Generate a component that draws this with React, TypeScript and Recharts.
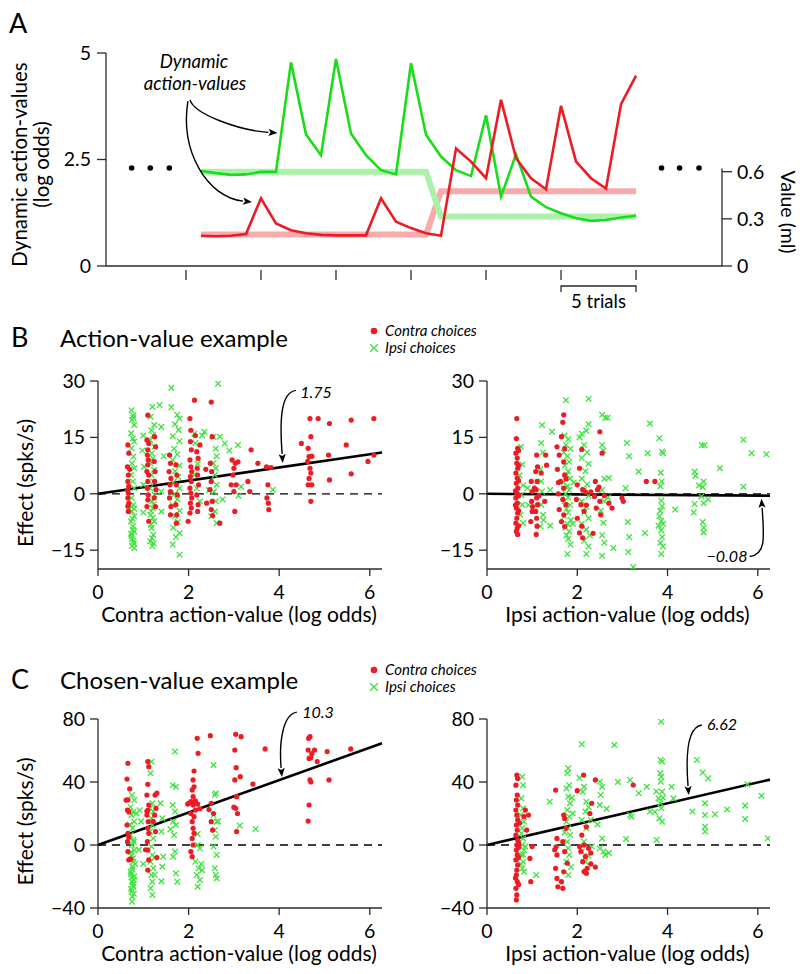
import React from 'react';
import { LineChart, Line, XAxis, YAxis, ScatterChart, Scatter, ReferenceLine, ReferenceDot } from 'recharts';

const FONT = 'Lato, "Open Sans", sans-serif';
const RED = '#ec1c24';
const GREEN = '#1adc1a';
const GREEN_X = '#3ee23e';
const PINK = '#f9aaaa';
const LIGHT_GREEN = '#aaf2aa';
const AXIS = '#2a2a2a';
const TXT = '#000';

// ---------------- Panel A data ----------------
const trials = [0, 1, 2, 3, 4, 5, 6, 7, 8, 9, 10, 11, 12, 13, 14, 15, 16, 17, 18, 19, 20, 21, 22, 23, 24, 25, 26, 27, 28, 29];
const contraActionValue = [0.71, 0.70, 0.71, 0.75, 1.59, 1.00, 0.84, 0.77, 0.73, 0.72, 0.72, 0.72, 1.59, 1.04, 0.89, 0.77, 0.71, 2.76, 2.45, 2.06, 3.90, 2.53, 2.06, 1.80, 3.76, 2.45, 2.06, 1.82, 3.80, 4.47];
const ipsiActionValue = [2.23, 2.18, 2.14, 2.15, 2.21, 2.21, 4.78, 3.09, 2.60, 4.86, 3.11, 2.60, 2.25, 2.15, 4.76, 3.08, 2.57, 2.25, 2.11, 3.54, 1.63, 2.62, 1.63, 1.38, 1.24, 1.12, 1.06, 1.08, 1.14, 1.18];
const contraRewardMl = [0.2, 0.2, 0.2, 0.2, 0.2, 0.2, 0.2, 0.2, 0.2, 0.2, 0.2, 0.2, 0.2, 0.2, 0.2, 0.2, 0.475, 0.475, 0.475, 0.475, 0.475, 0.475, 0.475, 0.475, 0.475, 0.475, 0.475, 0.475, 0.475, 0.475];
const ipsiRewardMl = [0.6, 0.6, 0.6, 0.6, 0.6, 0.6, 0.6, 0.6, 0.6, 0.6, 0.6, 0.6, 0.6, 0.6, 0.6, 0.6, 0.315, 0.315, 0.315, 0.315, 0.315, 0.315, 0.315, 0.315, 0.315, 0.315, 0.315, 0.315, 0.315, 0.315];
const trialTicks = [-1, 4, 9, 14, 19, 24, 29];
const A_X_MIN = -6.33;
const A_X_MAX = 34.73;
const leftTicksA = [0, 2.5, 5];
const rightTicksA = [0, 0.3, 0.6];
const RIGHT_MAX_A = 1.355;
const ellipsisTrials = [-4.62, -3.38, -2.11, 30.7, 31.9, 33.2];
const ellipsisLevel = 2.3;
const scaleBar = [{ x: 24, y: -0.47 }, { x: 29, y: -0.47 }];
const arrowToIpsi = [{ x: -0.73, y: 3.9 }, { x: 5.1, y: 3.12 }];
const arrowToContra = [{ x: -0.87, y: 3.87 }, { x: 3.4, y: 1.5 }];

const panelAData = trials.map((k, i) => ({
  k,
  contra: contraActionValue[i],
  ipsi: ipsiActionValue[i],
  contraMl: contraRewardMl[i],
  ipsiMl: ipsiRewardMl[i],
}));

// ---------------- Panel B / C data ----------------
const xTicksBC = [0, 2, 4, 6];
const X_MAX_BC = 6.27;

const contraB1: number[][] = [
  [0.66, 13], [0.68, 10.8], [0.65, 7.2], [0.67, 5], [0.66, 3.3], [0.68, 2], [0.65, 1], [0.67, 0.2], [0.66, -1.1], [0.68, -2.5], [0.66, -3.3], [0.67, -4.7], [0.7, 6.5],
  [1.1, 20.9], [1.08, 14.3], [1.12, 13.4], [1.1, 11.7], [1.09, 10.3], [1.11, 9], [1.1, 7.7], [1.08, 5.9], [1.12, 5], [1.1, 3.3], [1.09, 1.5], [1.11, -0.3], [1.1, -1.6], [1.08, -3.4], [1.12, -7.3],
  [1.25, 15.2], [1.27, 12.5], [1.24, 8.6], [1.26, 5.9], [1.25, 3.3], [1.28, 1.1], [1.24, -1.1], [1.27, -3.4],
  [1.58, 10.3], [1.6, 8.1], [1.57, 5.9], [1.61, 4.1], [1.59, 2.4], [1.6, 0.6], [1.58, -1.1], [1.61, -3.4], [1.6, -5.6],
  [1.72, 7.7], [1.74, 5], [1.73, 2.4], [1.75, -0.3], [1.72, -2.9], [1.74, -5.6], [1.73, -7.8],
  [2.13, 24.9], [2.03, 20], [2.05, 16.9], [2.04, 13.9], [2.06, 11.7], [2.03, 9], [2.05, 7.2], [2.07, 5.9], [2.04, 4.6], [2.06, 3.3], [2.03, 1.5], [2.05, 0.2], [2.07, -1.1], [2.04, -2.5], [2.06, -3.8], [2.03, -5.1], [1.99, -7.3],
  [2.18, 11.2], [2.21, 9.4], [2.19, 6.8], [2.2, 5], [2.22, 2.4], [2.18, -0.3], [2.21, -2.9], [2.2, -4.7], [2.15, 15.5], [2.25, 13],
  [2.5, 24.4], [2.52, 15.2], [2.48, 8.1], [2.51, 5.9], [2.5, 3.3], [2.47, 1.1], [2.52, -2], [2.5, -4.2], [2.53, -5.8], [2.69, -7.8], [2.38, 6.5], [2.4, -2.5],
  [2.96, 9], [3.03, 8.1], [3.0, 6.8], [2.98, 5], [2.94, 2.4], [3.05, 2.4], [3.0, 0.6], [3.02, -4.7], [3.09, 8.5],
  [3.38, 11.7], [3.31, 3.3], [3.35, 0.6], [3.53, 8.1], [3.72, 7.2], [3.75, 2.4], [3.73, -1.1], [3.76, -2.5], [3.77, -4.2], [3.82, 7],
  [4.49, 13.4], [4.68, 20], [4.7, 15.2], [4.64, 12.1], [4.66, 9.9], [4.72, 10], [4.63, 8.6], [4.68, 6.8], [4.7, 5.5], [4.66, 4.1], [4.72, 2.4], [4.64, 2.4], [4.7, -2],
  [4.86, 20], [5.11, 18.7], [5.11, 3.7], [5.09, 10.3], [5.48, 13], [5.59, 19.6], [5.59, 5.3], [5.96, 8.6], [6.09, 20], [6.09, 10.3],
];
const ipsiB1: number[][] = [
  [0.74, 22.2], [0.78, 20.9], [0.75, 19.6], [0.8, 18.3], [0.73, 16.1], [0.77, 14.7], [0.8, 13.9], [0.74, 12.1], [0.78, 9.9], [0.75, 8.1], [0.8, 6.8], [0.73, 5], [0.77, 3.3], [0.8, 1.5], [0.74, -1.1], [0.78, -2.9], [0.75, -4.7], [0.8, -6], [0.73, -7.3], [0.77, -8.6], [0.8, -10], [0.74, -11.3], [0.78, -12.6], [0.75, -13.9], [0.8, -14.4],
  [0.77, -9.5], [0.75, -12], [0.79, -13.2], [0.73, -10.6], [0.76, -6.6], [0.8, -4], [0.74, -3.5], [0.78, 20.2],
  [1.0, 15.5], [0.98, 11.5], [1.02, 7.2], [1.0, 2.4], [1.0, -5],
  [1.2, 23.1], [1.16, 20.5], [1.24, 18.3], [1.18, 16.9], [1.22, 15.6], [1.15, 14.3], [1.25, 12.5], [1.19, 10.8], [1.21, 9.4], [1.16, 8.1], [1.24, 6.4], [1.18, 5], [1.22, 3.3], [1.15, 1.5], [1.25, -0.3], [1.19, -2], [1.21, -3.8], [1.16, -5.6], [1.24, -7.3], [1.18, -9.1], [1.22, -10.9], [1.15, -12.6], [1.2, -13.9],
  [1.19, -11.8], [1.23, -13.2], [1.17, -8.2], [1.21, -6.4], [1.17, -4.6], [1.23, -2.8],
  [1.36, 23.6], [1.4, 17.8], [1.4, 0.6], [1.4, -4.7], [1.45, 10],
  [1.62, 28.2], [1.62, 23], [1.75, 21], [1.8, 20], [1.7, 18.5], [1.78, 17], [1.65, 15.3], [1.8, 14], [1.68, 12], [1.75, 10.5], [1.65, 9], [1.8, 7.5], [1.7, 6], [1.77, 4.5], [1.66, 3], [1.8, 1.5], [1.7, 0], [1.75, -1.5], [1.65, -3], [1.8, -4.5], [1.7, -6], [1.76, -7.5], [1.66, -9], [1.8, -10.5], [1.65, -13.5], [1.8, -16.2], [1.72, -11.5],
  [2.13, 16], [2.15, 13.5], [2.2, 8], [2.12, 5], [2.18, 1.5], [2.25, -2], [2.3, 15.5], [2.35, 16.5],
  [2.65, 29.3], [2.55, 15.2], [2.6, 12], [2.62, 10], [2.55, 8.1], [2.6, 6.8], [2.58, 5], [2.62, 2.4], [2.56, 0.6], [2.6, -2], [2.58, -4.7], [2.62, -7.8], [2.5, -6], [2.45, 1],
  [2.8, 13.4], [2.69, 15.2], [3.09, 13], [3.16, 1.9], [3.86, 1.1], [2.75, -1.5], [2.9, 11.5], [3.1, -0.5],
];
const contraB2: number[][] = [
  [0.66, 20], [0.65, 14.7], [0.68, 12.1], [0.64, 10.8], [0.67, 9.5], [0.66, 8.1], [0.68, 6.8], [0.64, 5.5], [0.67, 4.2], [0.65, 2.8], [0.68, 1.5], [0.66, 0.2], [0.64, -1.1], [0.67, -2.5], [0.65, -3.8], [0.68, -5.1], [0.66, -6.5], [0.64, -7.8], [0.67, -9.1], [0.65, -10], [0.68, -10.8], [0.7, 11.5], [0.7, 7.5], [0.7, 3.5], [0.7, -0.5], [0.7, -4.5], [0.7, -8.5], [0.63, 0.8], [0.63, -3],
  [0.98, 3.3], [1.0, 0.6], [0.99, -2], [1.01, -3.4], [1.0, -4.7], [0.97, -7.4], [1.05, 1.5],
  [1.1, 10.3], [1.12, 7.2], [1.08, 5.9], [1.11, 3.3], [1.09, 1.1], [1.1, -1.1], [1.12, -2.9], [1.08, -4.7], [1.1, -6.5], [1.11, -8.6], [1.09, -10.8], [1.15, -0.5],
  [1.3, 10.3], [1.32, 7.6], [1.28, -2], [1.2, 5.5],
  [1.7, 21], [1.68, 19], [1.65, 15.2], [1.55, 12.5], [1.72, 12], [1.6, 10.3], [1.7, 8.5], [1.56, 6.5], [1.72, 5], [1.63, 3.3], [1.7, 1.5], [1.58, 0], [1.68, -1.5], [1.75, -2.9], [1.6, -4.2], [1.7, -5.6], [1.65, -7.4], [1.72, -8.7], [1.58, 3], [1.75, 4],
  [2.1, 11.8], [2.05, 6.8], [2.0, 2.4], [2.12, 1.1], [1.98, -1.5], [2.08, -2.9], [2.15, -4.7], [2.0, -6.5], [2.1, -8.6], [2.05, -10.4], [2.12, -11.7], [2.2, -3], [2.18, 0.5],
  [2.5, 16.5], [2.55, 10.8], [2.4, 3.3], [2.45, 1.1], [2.38, -0.7], [2.5, -2], [2.42, -3.8], [2.52, -5.6], [2.3, 0.5], [2.48, 1.8], [2.35, -10.5],
  [2.77, -3.8], [2.99, -1.1], [3.02, -2], [3.53, 3.3], [3.72, 3.3], [2.6, -0.5], [2.7, -2.5],
];
const ipsiB2: number[][] = [
  [0.75, 12.5], [0.78, 7.8], [0.72, 4.9], [0.8, 2.3], [0.76, -0.3], [0.78, -2.9], [0.74, -5.6], [0.8, -7.8],
  [0.9, 1.5], [0.92, -3],
  [1.22, 18.3], [1.2, 13.5], [1.24, 11], [1.18, 6.6], [1.2, 3.3], [1.22, 0.6], [1.2, -2.9], [1.24, -5.6], [1.18, -8.6], [1.25, -7],
  [1.44, 16.5], [1.4, -8.5], [1.4, 1],
  [1.75, 24.9], [1.72, 15.5], [1.8, 14.5], [1.75, 13], [1.85, 12], [1.7, 11], [1.78, 10], [1.82, 8.5], [1.72, 7.5], [1.8, 6], [1.76, 5], [1.84, 4], [1.7, 3], [1.78, 2], [1.82, 1], [1.74, 0], [1.8, -1], [1.72, -2], [1.84, -3], [1.76, -4], [1.8, -5], [1.72, -6], [1.86, -7], [1.78, -8], [1.74, -9], [1.82, -10], [1.76, -11], [1.8, -12], [1.85, -13.5], [1.78, -16], [1.9, -8], [1.92, 3],
  [2.25, 25.3], [2.25, 18.5], [2.2, 16.8], [2.1, 16], [2.05, 15], [2.15, 13], [2.22, 11], [2.1, 9.5], [2.25, 8], [2.18, 6], [2.1, 4], [2.22, 2.5], [2.15, 1], [2.25, -0.5], [2.1, -2], [2.2, -3.5], [2.15, -5], [2.25, -6.5], [2.1, -8], [2.2, -9.5], [2.28, -11], [2.15, -12.5], [2.25, -14], [2.2, -16],
  [2.55, 21], [2.62, 20.2], [2.67, 20.2], [2.55, 13], [2.58, 11.5], [2.6, 4], [2.7, 4.2], [2.55, 1], [2.6, -2], [2.52, -4.5], [2.58, -7.7], [2.55, -11], [2.6, -13], [2.55, -16.5], [2.8, -14.4],
  [3.1, 13.5], [3.15, 10], [3.07, 1.5], [3.12, -7.5], [3.15, -11.5], [3.13, -15.5],
  [3.36, 5.9], [3.24, -19.5], [3.5, -10.4], [3.61, 18.7], [3.56, 10.8], [2.68, -1],
  [3.82, 14.8], [3.88, 11.2], [3.9, 10.8], [3.85, 5.6], [3.87, 3.3], [3.84, 2], [3.86, -1.8], [3.88, -3.3], [3.84, -4.5], [3.82, -6], [3.86, -7.2], [3.9, -8], [3.8, -8.5], [3.86, -9.7], [3.88, -11.5], [3.84, -13], [3.9, -14], [3.86, -16],
  [4.17, -4.2], [4.6, 5.9], [4.62, 4.8], [4.6, -2.7], [4.58, -5],
  [4.76, 12.9], [4.82, 12.9], [4.8, 3.3], [4.78, 1.8], [4.75, -0.7], [4.8, -2.5], [4.78, -7.5], [4.8, -9], [4.8, -10.3], [4.9, -1.5], [4.7, 2.2],
  [5.16, 6.8], [5.68, 14.4], [5.68, 1.9], [5.86, 10.8], [6.19, 10.5],
];
const contraC1: number[][] = [
  [0.66, 51.9], [0.64, 41.9], [0.7, 35.6], [0.66, 28.6], [0.62, 28.5], [0.65, 22.2], [0.68, 21], [0.64, 12.7], [0.66, 7.4], [0.68, 5], [0.65, 2.1], [0.66, -4.2], [0.68, -9.5], [0.72, -9],
  [1.1, 52.9], [1.12, 49.7], [1.1, 38.5], [1.08, 31.7], [1.12, 25.4], [1.1, 22], [1.08, 19], [1.11, 14.8], [1.1, 10.6], [1.12, 7.4], [1.09, 2.1], [1.1, -3.2], [1.12, -9.5], [1.1, -15.9], [1.05, -3], [1.08, 21.5],
  [1.26, 31.7], [1.3, 33], [1.28, 23.3], [1.25, 19], [1.27, 8.5], [1.3, -8], [1.22, 15],
  [2.19, 67.7], [2.21, 58.2], [2.12, 47], [2.1, 41.3], [2.12, 37], [2.08, 35], [2.1, 30.7], [2.05, 27.5], [2.1, 25.4], [2.15, 22.2], [2.05, 20], [2.12, 18], [2.08, 14.8], [2.1, 10.6], [2.12, 7.4], [2.08, 4.2], [2.1, 0], [2.05, -4.2], [2.08, -7.4], [2.0, 26.5], [1.98, 26], [2.15, 28], [2.2, 26], [2.25, 23],
  [2.48, 69.4], [2.5, 26.5], [2.55, 20], [2.5, 14.8], [2.53, 9.5], [2.45, 22.5],
  [3.04, 70.3], [3.16, 68.8], [3.02, 60.3], [3.05, 49.1], [3.14, 43.4], [3.02, 41.3], [3.06, 30.7], [3.04, 23.3], [3.08, 20], [3.06, 8.5], [3.0, 24],
  [3.42, 38.7], [3.69, 61],
  [4.65, 67.7], [4.68, 68.8], [4.64, 60.3], [4.7, 55.4], [4.66, 55], [4.68, 41.3], [4.7, 40], [4.66, 25.4], [4.64, 15.2], [4.72, 58],
  [4.78, 60.3], [4.84, 52.9], [5.06, 59.3], [5.1, 41.3], [5.58, 61],
];
const ipsiC1: number[][] = [
  [0.75, 31.7], [0.8, 28.5], [0.72, 24], [0.78, 21], [0.74, 19], [0.8, 14.8], [0.76, 10.6], [0.72, 6.3], [0.78, 3.2], [0.75, 0], [0.8, -3.2], [0.74, -6.3], [0.78, -10.6], [0.76, -13.8], [0.72, -16.9], [0.8, -20], [0.75, -23.3], [0.78, -26.5], [0.74, -29.6], [0.76, -32.8], [0.75, -36], [0.82, -12], [0.7, 13], [0.85, 20],
  [0.73, -18.5], [0.79, -22], [0.77, -25], [0.73, -28], [0.79, -31], [0.77, -8.5], [0.73, -4.5], [0.79, 2], [0.76, -15.5], [0.74, -20.5],
  [0.92, 22], [0.95, 15], [1.0, -12], [0.9, -3],
  [1.18, 52.9], [1.16, 45.5], [1.2, 26.5], [1.15, 23.3], [1.22, 21.2], [1.18, 17], [1.2, 12.7], [1.15, 8.5], [1.22, 4.2], [1.18, -1], [1.2, -6.3], [1.16, -10.6], [1.22, -14.8], [1.18, -19], [1.2, -23.3], [1.16, -27.5], [1.2, -31.7], [1.25, -19], [1.25, -8],
  [1.38, 26.5], [1.42, 17], [1.4, 8.5], [1.44, -7.4], [1.42, -13.8], [1.4, -23],
  [1.7, 59.3], [1.65, 38], [1.72, 37], [1.65, 25.4], [1.7, 21.2], [1.66, 14.8], [1.72, 12.7], [1.68, 6.3], [1.7, -4.2], [1.66, -7.4], [1.72, -18], [1.75, -23.3], [1.6, 10],
  [2.2, 0], [2.25, -2.1], [2.15, -10.6], [2.22, -14.8], [2.18, -19], [2.25, -22.2], [2.2, -26.5], [2.28, -12], [2.3, -16], [2.2, 7],
  [2.55, 50.8], [2.6, 32.8], [2.58, 31.7], [2.55, 19], [2.62, 14.8], [2.58, 9.5], [2.6, 5.3], [2.55, -1], [2.62, -6.3], [2.58, -14.8], [2.6, -19], [2.62, -21.2], [2.65, 15],
  [3.13, 12.3], [3.48, 10.2],
];
const contraC2: number[][] = [
  [0.66, 44.4], [0.68, 42.3], [0.64, 38], [0.67, 31.7], [0.65, 28.5], [0.68, 25.4], [0.64, 22.2], [0.66, 19], [0.68, 15.9], [0.65, 12.7], [0.67, 9.5], [0.64, 6.3], [0.68, 3.2], [0.66, 0], [0.65, -3.2], [0.67, -6.3], [0.64, -9.5], [0.68, -12.7], [0.66, -15.9], [0.65, -19], [0.67, -23.3], [0.64, -27.5], [0.66, -31.7], [0.65, -34.9], [0.7, 1.5], [0.7, -1.5], [0.72, 14], [0.7, -8], [0.63, -21], [0.7, -25],
  [0.85, 22.2], [0.92, 19], [0.88, 9.5], [0.95, -8.5], [0.97, -23.3], [0.82, 18], [1.0, -1],
  [1.52, 34.9], [1.55, 4.2], [1.53, -1.1], [1.55, -6.3], [1.52, -14.8], [1.55, -21.2], [1.57, -26.5], [1.5, -3],
  [1.7, 19], [1.72, 16.9], [1.75, 10.6], [1.68, 2.1], [1.72, -4.2], [1.78, -11.6], [1.68, -27.5], [1.65, -23.3], [1.7, -17],
  [2.14, 44.4], [2.32, 26.5], [2.2, 11.6], [2.1, 6.3], [2.15, 0], [2.25, -2.1], [2.08, -4.2], [2.18, -7.4], [2.12, -10.6], [2.22, -14.8], [2.15, -16.9], [2.05, -1], [2.3, -5], [2.2, -18], [2.0, 34.5],
  [2.4, 41.3], [3.24, 38.1], [2.3, -12], [2.4, -14], [2.28, 20],
];
const ipsiC2: number[][] = [
  [0.78, 43.3], [0.8, 38], [0.76, 29.6], [0.8, 23.3], [0.75, 19], [0.82, 14.8], [0.78, 10.6], [0.76, 7.4], [0.8, 4.2], [0.78, 0], [0.82, -3.2], [0.76, -6.3], [0.8, -10.6], [0.78, -14.8], [0.82, -17], [0.75, -12], [0.8, -6], [0.85, -1],
  [1.09, -19], [1.39, 27.5],
  [1.8, 48.7], [1.78, 45.5], [1.82, 38], [1.76, 35.9], [1.8, 30.7], [1.84, 26.5], [1.78, 22.2], [1.82, 18], [1.76, 14.8], [1.8, 10.6], [1.84, 6.3], [1.78, 2.1], [1.8, -2.1], [1.82, -6.3], [1.76, -10.6], [1.8, -19], [1.88, 30], [1.9, 20], [1.72, 8], [1.86, -14],
  [2.1, 63.9], [2.15, 37], [2.12, 33.8], [2.2, 27.5], [2.18, 21.2], [2.1, 15.9], [2.2, 10.6], [2.15, 2.1], [2.1, -4.2], [2.18, -10.6], [2.2, -16.9], [2.25, 24], [2.25, -7], [2.05, 42.5], [2.3, 16], [2.32, -1],
  [2.5, 40.2], [2.55, 37], [2.52, 31.7], [2.5, 25.4], [2.55, 4.2], [2.5, -2.1], [2.58, -4.2], [2.62, -6.3], [2.65, 23], [2.7, -5], [2.45, 13],
  [2.82, 63.5], [3.17, 41.3], [3.36, 32.8], [3.54, 37], [3.61, 21.2], [3.76, 3.2], [3.17, 19], [3.08, 3.8], [2.9, 40], [3.2, 18],
  [3.86, 78.3], [3.85, 54], [3.88, 53], [3.84, 45.5], [3.86, 43.3], [3.85, 40.2], [3.88, 33.8], [3.8, 29.6], [3.84, 26.5], [3.86, 23.3], [3.82, 16.9], [3.88, 14.8], [3.75, 34], [3.9, 30], [3.72, 21],
  [4.09, 37], [4.13, 29.6], [4.65, 54], [4.78, 46], [4.83, 26.5], [4.83, 19], [4.83, 11.6], [4.83, 8.5], [4.9, 42.3], [4.55, 21.2], [5.05, 19.5], [5.32, 22.6], [5.72, 25], [5.72, 16.5], [5.77, 38.5], [6.08, 31.3], [6.22, 4.2],
];

const fitB1 = [{ x: 0, y: 0 }, { x: 6.27, y: 10.97 }];
const fitB2 = [{ x: 0, y: 0 }, { x: 6.27, y: -0.5 }];
const fitC1 = [{ x: 0, y: 0 }, { x: 6.27, y: 64.6 }];
const fitC2 = [{ x: 0, y: 0 }, { x: 6.27, y: 41.5 }];

const arrowB1 = [{ x: 4.37, y: 27.5 }, { x: 4.08, y: 8.2 }];
const arrowB2 = [{ x: 5.82, y: -16.68 }, { x: 6.08, y: -1.32 }];
const arrowC1 = [{ x: 4.39, y: 84.4 }, { x: 4.06, y: 43.2 }];
const arrowC2 = [{ x: 4.76, y: 76.2 }, { x: 4.47, y: 31.7 }];

const toPts = (arr: number[][]) => arr.map(([x, y]) => ({ x, y }));
const fmtSigned = (v: number) => (v < 0 ? '\u2212' + Math.abs(v) : String(v));

// ---------------- shapes ----------------
const RedDot = (p: any) => <circle cx={p.cx} cy={p.cy} r={2.6} fill={RED} />;
const GreenX = (p: any) => {
  const s = 2.8;
  return (
    <path
      d={`M${p.cx - s},${p.cy - s}L${p.cx + s},${p.cy + s}M${p.cx - s},${p.cy + s}L${p.cx + s},${p.cy - s}`}
      stroke={GREEN_X}
      strokeWidth={1.3}
      fill="none"
    />
  );
};

const curvedArrow = (c1dx: number, c1dy: number, c2dx: number, c2dy: number) => (p: any) => {
  const { x1, y1, x2, y2 } = p;
  const cx1 = x1 + c1dx, cy1 = y1 + c1dy, cx2 = x2 + c2dx, cy2 = y2 + c2dy;
  const ang = Math.atan2(y2 - cy2, x2 - cx2);
  const L = 9, W = 3.6;
  const bx = x2 - L * Math.cos(ang), by = y2 - L * Math.sin(ang);
  const px = -Math.sin(ang), py = Math.cos(ang);
  return (
    <g>
      <path d={`M${x1},${y1}C${cx1},${cy1} ${cx2},${cy2} ${bx},${by}`} stroke="#000" strokeWidth={1.4} fill="none" />
      <path d={`M${x2},${y2}L${bx + W * px},${by + W * py}L${bx + 2 * Math.cos(ang)},${by + 2 * Math.sin(ang)}L${bx - W * px},${by - W * py}Z`} fill="#000" />
    </g>
  );
};

const ScaleBarShape = (p: any) => {
  const { x1, y1, x2 } = p;
  return (
    <g>
      <path d={`M${x1},${y1 + 6}V${y1}H${x2}V${y1 + 6}`} stroke={AXIS} strokeWidth={1.3} fill="none" />
      <text x={(x1 + x2) / 2} y={y1 + 22} textAnchor="middle" fontSize={18.5} fill={TXT}>5 trials</text>
    </g>
  );
};

const GapTick = (p: any) => <line x1={p.x} x2={p.x} y1={p.y + 4} y2={p.y + 14} stroke={AXIS} strokeWidth={1.3} />;

// ---------------- Panel A ----------------
function PanelA() {
  return (
    <LineChart width={800} height={320} data={panelAData} margin={{ top: 53, right: 18, bottom: 24, left: 46 }}>
      <XAxis
        type="number"
        dataKey="k"
        domain={[A_X_MIN, A_X_MAX]}
        allowDataOverflow
        ticks={trialTicks}
        tickLine={false}
        tickSize={0}
        tickMargin={0}
        tick={GapTick}
        height={30}
        stroke={AXIS}
        strokeWidth={1.3}
      />
      <YAxis
        yAxisId="left"
        domain={[0, 5]}
        ticks={leftTicksA}
        allowDataOverflow
        width={60}
        tickSize={9}
        tickMargin={6}
        stroke={AXIS}
        strokeWidth={1.3}
        tick={{ fontSize: 19.5, fill: TXT }}
        label={(p: any) => {
          const vb = p.viewBox;
          const cy = vb.y + vb.height / 2 + 5;
          return (
            <g>
              <text x={vb.x - 19} y={cy} transform={`rotate(-90 ${vb.x - 19} ${cy})`} textAnchor="middle" fontSize={20.5} fill={TXT}>Dynamic action-values</text>
              <text x={vb.x + 3} y={cy} transform={`rotate(-90 ${vb.x + 3} ${cy})`} textAnchor="middle" fontSize={20.5} fill={TXT}>(log odds)</text>
            </g>
          );
        }}
      />
      <YAxis
        yAxisId="right"
        orientation="right"
        domain={[0, RIGHT_MAX_A]}
        ticks={rightTicksA}
        allowDataOverflow
        width={60}
        axisLine={false}
        tickSize={10}
        tickMargin={5}
        stroke={AXIS}
        strokeWidth={1.3}
        tick={{ fontSize: 19.5, fill: TXT }}
        tickFormatter={(v: number) => (v === 0 ? '0' : v.toFixed(1))}
        label={(p: any) => {
          const vb = p.viewBox;
          const cx = vb.x + 59;
          const cy = vb.y + vb.height - 54;
          return <text x={cx} y={cy} transform={`rotate(90 ${cx} ${cy})`} textAnchor="middle" fontSize={19.5} fill={TXT}>Value (ml)</text>;
        }}
      />
      <ReferenceLine yAxisId="right" segment={[{ x: A_X_MAX, y: 0 }, { x: A_X_MAX, y: 0.62 }]} stroke={AXIS} strokeWidth={1.3} ifOverflow="visible" />
      <Line yAxisId="right" dataKey="contraMl" stroke={PINK} strokeWidth={6} dot={false} isAnimationActive={false} />
      <Line yAxisId="right" dataKey="ipsiMl" stroke={LIGHT_GREEN} strokeWidth={6} dot={false} isAnimationActive={false} />
      <Line yAxisId="left" dataKey="ipsi" stroke={GREEN} strokeWidth={2.6} dot={false} isAnimationActive={false} />
      <Line yAxisId="left" dataKey="contra" stroke={RED} strokeWidth={2.6} dot={false} isAnimationActive={false} />
      {ellipsisTrials.map((t) => (
        <ReferenceDot key={t} yAxisId="left" x={t} y={ellipsisLevel} r={2.8} fill="#000" stroke="none" />
      ))}
      <ReferenceLine yAxisId="left" segment={arrowToIpsi} ifOverflow="visible" shape={curvedArrow(4, 14, -40, -3)} />
      <ReferenceLine yAxisId="left" segment={arrowToContra} ifOverflow="visible" shape={curvedArrow(-8, 50, -45, -5)} />
      <ReferenceLine yAxisId="left" segment={scaleBar} ifOverflow="visible" shape={ScaleBarShape} />
    </LineChart>
  );
}

// ---------------- Scatter panels ----------------
type PanelProps = {
  left: number;
  top: number;
  height: number;
  margin: { top: number; right: number; bottom: number; left: number };
  yDomain: number[];
  yTicks: number[];
  xLabel: string;
  showYLabel: boolean;
  contra: number[][];
  ipsi: number[][];
  fit: { x: number; y: number }[];
  arrow: { x: number; y: number }[];
  arrowCtl: number[];
};

function ScatterPanel(props: PanelProps) {
  const { left, top, height, margin, yDomain, yTicks, xLabel, showYLabel, contra, ipsi, fit, arrow, arrowCtl } = props;
  return (
    <div style={{ position: 'absolute', left, top }}>
      <ScatterChart width={400} height={height} margin={margin}>
        <XAxis
          type="number"
          dataKey="x"
          domain={[0, X_MAX_BC]}
          allowDataOverflow
          ticks={xTicksBC}
          tickSize={7}
          tickMargin={9}
          height={50}
          stroke={AXIS}
          strokeWidth={1.3}
          tick={{ fontSize: 19.5, fill: TXT }}
          label={(p: any) => {
            const vb = p.viewBox;
            return <text x={vb.x + vb.width / 2 - 1} y={vb.y + 53} textAnchor="middle" fontSize={21} fill={TXT}>{xLabel}</text>;
          }}
        />
        <YAxis
          type="number"
          dataKey="y"
          domain={yDomain}
          allowDataOverflow
          ticks={yTicks}
          width={50}
          tickSize={8}
          tickMargin={5}
          stroke={AXIS}
          strokeWidth={1.3}
          tick={{ fontSize: 19.5, fill: TXT }}
          tickFormatter={fmtSigned}
          label={
            showYLabel
              ? (p: any) => {
                  const vb = p.viewBox;
                  const cx = vb.x - 15;
                  const cy = vb.y + vb.height / 2 + 8;
                  return <text x={cx} y={cy} transform={`rotate(-90 ${cx} ${cy})`} textAnchor="middle" fontSize={21} fill={TXT}>Effect (spks/s)</text>;
                }
              : undefined
          }
        />
        <Scatter data={toPts(ipsi)} shape={GreenX} isAnimationActive={false} />
        <Scatter data={toPts(contra)} shape={RedDot} isAnimationActive={false} />
        <ReferenceLine y={0} stroke="#000" strokeWidth={1.3} strokeDasharray="8 6" />
        <ReferenceLine segment={fit} stroke="#000" strokeWidth={2.6} ifOverflow="visible" />
        <ReferenceLine segment={arrow} ifOverflow="visible" shape={curvedArrow(arrowCtl[0], arrowCtl[1], arrowCtl[2], arrowCtl[3])} />
      </ScatterChart>
    </div>
  );
}

function LegendBlock({ y }: { y: number }) {
  const s = 3.8;
  const gx = 374, gy = y + 17;
  return (
    <g>
      <circle cx={374} cy={y} r={3.3} fill={RED} />
      <text x={385} y={y + 5} fontSize={15} fontStyle="italic" fill={TXT}>Contra choices</text>
      <path d={`M${gx - s},${gy - s}L${gx + s},${gy + s}M${gx - s},${gy + s}L${gx + s},${gy - s}`} stroke={GREEN_X} strokeWidth={1.4} />
      <text x={385} y={gy + 5} fontSize={15} fontStyle="italic" fill={TXT}>Ipsi choices</text>
    </g>
  );
}

export default function App() {
  return (
    <div style={{ position: 'absolute', left: 0, top: 0, width: 800, height: 974, background: '#fff', fontFamily: FONT, overflow: 'hidden' }}>
      <div style={{ position: 'absolute', left: 0, top: 0 }}>
        <PanelA />
      </div>
      <ScatterPanel left={0} top={330} height={300} margin={{ top: 51, right: 18, bottom: 11, left: 48 }} yDomain={[-20, 30]} yTicks={[-15, 0, 15, 30]} xLabel="Contra action-value (log odds)" showYLabel contra={contraB1} ipsi={ipsiB1} fit={fitB1} arrow={arrowB1} arrowCtl={[-16, 2, -3, -40]} />
      <ScatterPanel left={400} top={330} height={300} margin={{ top: 51, right: 30, bottom: 11, left: 37 }} yDomain={[-20, 30]} yTicks={[-15, 0, 15, 30]} xLabel="Ipsi action-value (log odds)" showYLabel={false} contra={contraB2} ipsi={ipsiB2} fit={fitB2} arrow={arrowB2} arrowCtl={[16, -2, 3, 40]} />
      <ScatterPanel left={0} top={665} height={309} margin={{ top: 54, right: 18, bottom: 16, left: 48 }} yDomain={[-40, 80]} yTicks={[-40, 0, 40, 80]} xLabel="Contra action-value (log odds)" showYLabel contra={contraC1} ipsi={ipsiC1} fit={fitC1} arrow={arrowC1} arrowCtl={[-14, 2, -3, -35]} />
      <ScatterPanel left={400} top={665} height={309} margin={{ top: 54, right: 30, bottom: 16, left: 37 }} yDomain={[-40, 80]} yTicks={[-40, 0, 40, 80]} xLabel="Ipsi action-value (log odds)" showYLabel={false} contra={contraC2} ipsi={ipsiC2} fit={fitC2} arrow={arrowC2} arrowCtl={[-15, 2, -3, -38]} />
      <svg width={800} height={974} style={{ position: 'absolute', left: 0, top: 0, pointerEvents: 'none' }} fontFamily={FONT}>
        <text x={9} y={33} fontSize={27} fill={TXT}>A</text>
        <text x={194} y={68} textAnchor="middle" fontSize={18.5} fontStyle="italic" fill={TXT}>Dynamic</text>
        <text x={195} y={90} textAnchor="middle" fontSize={18.5} fontStyle="italic" fill={TXT}>action-values</text>
        <text x={11} y={347} fontSize={27} fill={TXT}>B</text>
        <text x={60} y={347} fontSize={24} fill={TXT}>Action-value example</text>
        <LegendBlock y={331} />
        <text x={316} y={398} textAnchor="middle" fontSize={16} fontStyle="italic" fill={TXT}>1.75</text>
        <text x={727} y={562} textAnchor="middle" fontSize={16} fontStyle="italic" fill={TXT}>{'\u22120.08'}</text>
        <text x={11} y={689} fontSize={27} fill={TXT}>C</text>
        <text x={60} y={689} fontSize={24} fill={TXT}>Chosen-value example</text>
        <LegendBlock y={670} />
        <text x={318} y={718} textAnchor="middle" fontSize={16} fontStyle="italic" fill={TXT}>10.3</text>
        <text x={722} y={730} textAnchor="middle" fontSize={16} fontStyle="italic" fill={TXT}>6.62</text>
      </svg>
    </div>
  );
}
